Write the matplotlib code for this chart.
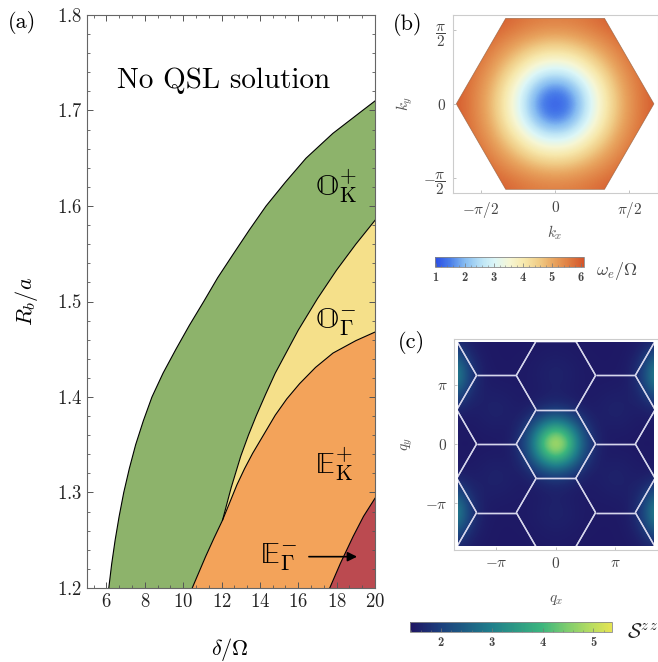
import numpy as np
import matplotlib
matplotlib.use("Agg")
from matplotlib import pyplot as plt
from matplotlib.colors import LinearSegmentedColormap
from matplotlib.patches import Polygon, Rectangle
from matplotlib.collections import LineCollection
from matplotlib.ticker import MultipleLocator

plt.rcParams['font.family'] = 'serif'
plt.rcParams['font.serif'] = ['cmr10']
plt.rcParams['mathtext.fontset'] = 'cm'
plt.rcParams['axes.formatter.use_mathtext'] = True

# ---- panel (a): phase boundaries ----
c1_d = [6.12, 6.27, 6.45, 6.66, 6.90, 7.19, 7.52, 7.92, 8.37, 8.95, 9.62, 10.32, 11.07,
        11.80, 12.62, 13.45, 14.32, 15.33, 16.40, 17.80, 19.35, 20.0]
c1_r = [1.200, 1.225, 1.250, 1.275, 1.300, 1.325, 1.350, 1.375, 1.400, 1.425, 1.450, 1.475, 1.500,
        1.525, 1.550, 1.575, 1.600, 1.625, 1.650, 1.676, 1.700, 1.710]
c2lo_d = [10.47, 11.17, 11.6, 12.05]
c2lo_r = [1.200, 1.233, 1.252, 1.271]
c2up_d = [12.05, 12.5, 13.0, 13.4, 13.8, 14.3, 14.8, 16.0, 17.0, 18.0, 19.0, 20.0]
c2up_r = [1.271, 1.305, 1.338, 1.360, 1.380, 1.403, 1.425, 1.470, 1.503, 1.533, 1.560, 1.585]
c3_d = [12.05, 12.8, 13.2, 13.62, 14.8, 15.4, 16.07, 16.9, 17.81, 19.0, 20.0]
c3_r = [1.271, 1.308, 1.325, 1.341, 1.381, 1.398, 1.414, 1.431, 1.446, 1.459, 1.468]
c4_d = [17.64, 18.2, 18.86, 19.4, 20.0]
c4_r = [1.200, 1.226, 1.254, 1.275, 1.294]

green = '#8db36b'
yellow = '#f5e08a'
orange = '#f3a35a'
red = '#bb4a50'

# ---- panel (b): omega_e / Omega, one quadrant (y rows 0..1.75, x cols 0..2.1, step 0.35) ----
omega_step = 0.35
omega_q = np.array([
    [1.00, 1.45, 2.75, 3.95, 4.90, 5.55, 6.00],
    [1.45, 1.93, 3.00, 4.10, 5.00, 5.58, 6.02],
    [2.75, 3.00, 3.77, 4.55, 5.23, 5.70, 6.05],
    [3.95, 4.10, 4.55, 5.05, 5.50, 5.90, 6.10],
    [4.90, 5.00, 5.23, 5.50, 5.80, 6.05, 6.10],
    [5.55, 5.58, 5.70, 5.90, 6.05, 6.10, 6.10],
])

# ---- panel (c): S^zz, one quadrant (y rows 0..5.4 step .675, x cols 0..5.16 step .645) ----
s_stepx, s_stepy = 0.645, 0.675
szz_q = np.array([
    [5.30, 4.37, 2.72, 1.77, 1.50, 1.46, 1.45, 1.45, 1.45],
    [4.29, 3.60, 2.39, 1.68, 1.48, 1.51, 1.49, 1.45, 1.46],
    [2.59, 2.31, 1.83, 1.54, 1.55, 1.58, 1.53, 1.49, 1.50],
    [1.72, 1.65, 1.54, 1.50, 1.56, 1.59, 1.55, 1.57, 1.75],
    [1.56, 1.52, 1.48, 1.48, 1.51, 1.53, 1.54, 1.74, 2.39],
    [1.59, 1.55, 1.49, 1.47, 1.47, 1.48, 1.53, 1.91, 3.05],
    [1.58, 1.55, 1.49, 1.46, 1.45, 1.46, 1.52, 1.88, 2.94],
    [1.51, 1.49, 1.46, 1.45, 1.45, 1.45, 1.49, 1.67, 2.20],
    [1.47, 1.46, 1.45, 1.45, 1.45, 1.45, 1.46, 1.51, 1.66],
])


def mirror(q):
    full = np.vstack([q[::-1], q[1:]])
    return np.hstack([full[:, ::-1], full[:, 1:]])


cmap_b = LinearSegmentedColormap.from_list('temp', [
    (0.0, '#2a4de6'), (0.1, '#4a7ee9'), (0.2, '#86bcf1'), (0.32, '#bfe6f6'),
    (0.4, '#dcf6f7'), (0.5, '#f6f6d4'), (0.6, '#f7e8ac'), (0.7, '#f0cc86'),
    (0.8, '#e8a35e'), (0.9, '#df7d42'), (1.0, '#d4552b')])
cmap_c = LinearSegmentedColormap.from_list('bgy', [
    (0.0, '#1f1563'), (0.15, '#1c3f7d'), (0.4, '#1f7e8b'), (0.65, '#3bb57e'),
    (0.78, '#7fcd6e'), (0.9, '#b9dd60'), (1.0, '#e6e452')])

W, H = 658, 662
fig = plt.figure(figsize=(W / 100, H / 100), dpi=100)


def box(l, t, r, b):
    return [l / W, 1 - b / H, (r - l) / W, (b - t) / H]


# ================= (a) =================
ax = fig.add_axes(box(87.3, 15, 375, 588))
ax.fill(c1_d + c2up_d[::-1] + c2lo_d[-2::-1], c1_r + c2up_r[::-1] + c2lo_r[-2::-1], color=green, lw=0)
ax.fill(c2up_d + c3_d[::-1], c2up_r + c3_r[::-1], color=yellow, lw=0)
ax.fill(c2lo_d + c3_d[1:] + c4_d[::-1], c2lo_r + c3_r[1:] + c4_r[::-1], color=orange, lw=0)
ax.fill(c4_d + [20.0], c4_r + [1.2], color=red, lw=0)
for d, r in [(c1_d, c1_r), (c2lo_d + c2up_d[1:], c2lo_r + c2up_r[1:]), (c3_d, c3_r), (c4_d, c4_r)]:
    ax.plot(d, r, color='k', lw=0.8)
ax.set_xlim(5, 20)
ax.set_ylim(1.2, 1.8)
ax.xaxis.set_major_locator(MultipleLocator(2))
ax.xaxis.set_minor_locator(MultipleLocator(2 / 3))
ax.yaxis.set_major_locator(MultipleLocator(0.1))
ax.yaxis.set_minor_locator(MultipleLocator(0.02))
ax.set_xticks([6, 8, 10, 12, 14, 16, 18, 20])
ax.tick_params(which='both', direction='in', top=True, right=True, color='#555555', labelsize=13.5, labelcolor='#222222')
ax.tick_params(which='major', length=4, width=0.7)
ax.tick_params(which='minor', length=2.5, width=0.6)
for s in ax.spines.values():
    s.set_color('#666666')
    s.set_linewidth(0.8)
ax.text(12.1, 1.7232, 'No QSL solution', fontsize=21, ha='center', va='baseline')
phase_kw = dict(fontsize=22, ha='left', va='baseline')
ax.text(16.85, 1.6115, '$\\mathrm{\U0001D546}_{\\mathrm{K}}^{+}$', **phase_kw)
ax.text(16.85, 1.472, '$\\mathrm{\U0001D546}_{\\Gamma}^{-}$', **phase_kw)
ax.text(16.85, 1.320, '$\\mathrm{\U0001D53C}_{\\mathrm{K}}^{+}$', **phase_kw)
ax.text(14.0, 1.2259, '$\\mathrm{\U0001D53C}_{\\Gamma}^{-}$', **phase_kw)
ax.annotate('', xy=(19.21, 1.2328), xytext=(16.41, 1.2328),
            arrowprops=dict(arrowstyle='-|>', color='k', lw=1.2, mutation_scale=14))
ax.text(-0.21, 0.5, r'$R_b/a$', transform=ax.transAxes, fontsize=16, rotation=90, ha='center', va='center')
ax.text(0.496, -0.108, r'$\delta/\Omega$', transform=ax.transAxes, fontsize=16, ha='center', va='center')
fig.text(22 / W, 1 - 23 / H, '(a)', fontsize=16, ha='center', va='center')

# ================= (b) =================
axb = fig.add_axes(box(452.7, 15, 657.5, 192.7))
omega = mirror(omega_q)
nb_y, nb_x = omega_q.shape
ex = (nb_x - 0.5) * omega_step
ey = (nb_y - 0.5) * omega_step
imb = axb.imshow(omega, origin='lower', extent=(-ex, ex, -ey, ey), cmap=cmap_b,
                 vmin=0.98, vmax=6.1, interpolation='bicubic')
hex_r = 2 * np.pi / 3
ang = np.arange(6) * np.pi / 3
hex_xy = np.column_stack([hex_r * np.cos(ang), hex_r * np.sin(ang)])
hexpatch = Polygon(hex_xy, closed=True, facecolor='none', edgecolor='#8a5a3a', lw=0.5, alpha=0.7)
axb.add_patch(hexpatch)
imb.set_clip_path(hexpatch)
axb.set_xlim(-2.17, 2.17)
axb.set_ylim(-1.885, 1.885)
axb.set_aspect('auto')
axb.set_xticks([-np.pi / 2, 0, np.pi / 2], [r'$-\pi/2$', r'$0$', r'$\pi/2$'])
axb.set_yticks([-np.pi / 2, 0, np.pi / 2], [r'$-\dfrac{\pi}{2}$', r'$0$', r'$\dfrac{\pi}{2}$'])
axb.tick_params(direction='in', length=2.5, width=0.5, color='#aaaaaa', labelsize=11, labelcolor='#444444', pad=5)
for s in axb.spines.values():
    s.set_color('#cccccc')
    s.set_linewidth(0.8)
axb.text(-0.233, 0.5, r'$k_y$', transform=axb.transAxes, fontsize=11, rotation=90, ha='center', va='center', color='#555555')
axb.text(0.5, -0.227, r'$k_x$', transform=axb.transAxes, fontsize=11, ha='center', va='center', color='#555555')
fig.text(408 / W, 1 - 25 / H, '(b)', fontsize=16, ha='center', va='center')

caxb = fig.add_axes(box(435, 256.7, 584, 266.7))
cbb = fig.colorbar(imb, cax=caxb, orientation='horizontal')
cbb.set_ticks([1, 2, 3, 4, 5, 6])
caxb.xaxis.set_minor_locator(MultipleLocator(0.2))
caxb.tick_params(which='both', direction='in', color='#777777', labelsize=9, labelcolor='#444444', pad=3)
caxb.tick_params(which='major', length=3, width=0.5)
caxb.tick_params(which='minor', length=1.5, width=0.4)
for lab in caxb.get_xticklabels():
    lab.set_family('cmb10')
cbb.outline.set_edgecolor('#888888')
cbb.outline.set_linewidth(0.6)
fig.text(596 / W, 1 - 271 / H, r'$\omega_e/\Omega$', fontsize=13, ha='left', va='center', color='#444444')

# ================= (c) =================
axc = fig.add_axes(box(454.2, 338.5, 657.7, 549.5))
szz = mirror(szz_q)
nc_y, nc_x = szz_q.shape
cx = (nc_x - 0.5) * s_stepx
cy = (nc_y - 0.5) * s_stepy
imc = axc.imshow(szz, origin='lower', extent=(-cx, cx, -cy, cy), cmap=cmap_c,
                 vmin=1.39, vmax=5.37, interpolation='bicubic')
ix, iy = (nc_x - 1) * s_stepx, (nc_y - 1) * s_stepy
clip = Rectangle((-ix, -iy), 2 * ix, 2 * iy, transform=axc.transData, facecolor='none', edgecolor='none')
axc.add_patch(clip)
imc.set_clip_path(clip)
# Brillouin-zone tiling
b1 = np.array([np.pi, np.pi / np.sqrt(3)])
b3 = np.array([0.0, 2 * np.pi / np.sqrt(3)])
segs = []
for m in range(-3, 4):
    for n in range(-5, 6):
        c = m * b1 + n * b3
        v = hex_xy + c
        for i in range(6):
            segs.append([v[i], v[(i + 1) % 6]])
lc = LineCollection(segs, colors='#d6d6ec', linewidths=1.0)
axc.add_collection(lc)
lc.set_clip_path(clip)
axc.set_xlim(-1.71 * np.pi, 1.71 * np.pi)
axc.set_ylim(-1.776 * np.pi, 1.776 * np.pi)
axc.set_aspect('auto')
axc.set_xticks([-np.pi, 0, np.pi], [r'$-\pi$', r'$0$', r'$\pi$'])
axc.set_yticks([-np.pi, 0, np.pi], [r'$-\pi$', r'$0$', r'$\pi$'])
axc.tick_params(direction='in', length=2.5, width=0.5, color='#aaaaaa', labelsize=11, labelcolor='#444444', pad=5)
for s in axc.spines.values():
    s.set_color('#cccccc')
    s.set_linewidth(0.8)
axc.text(-0.233, 0.5, r'$q_y$', transform=axc.transAxes, fontsize=11, rotation=90, ha='center', va='center', color='#555555')
axc.text(0.5, -0.239, r'$q_x$', transform=axc.transAxes, fontsize=11, ha='center', va='center', color='#555555')
fig.text(411 / W, 1 - 343 / H, '(c)', fontsize=16, ha='center', va='center')

caxc = fig.add_axes(box(410, 621.7, 612.3, 631.7))
cbc = fig.colorbar(imc, cax=caxc, orientation='horizontal')
cbc.set_ticks([2, 3, 4, 5])
caxc.xaxis.set_minor_locator(MultipleLocator(0.2))
caxc.tick_params(which='both', direction='in', color='#777777', labelsize=9, labelcolor='#444444', pad=3)
caxc.tick_params(which='major', length=3, width=0.5)
caxc.tick_params(which='minor', length=1.5, width=0.4)
for lab in caxc.get_xticklabels():
    lab.set_family('cmb10')
cbc.outline.set_edgecolor('#888888')
cbc.outline.set_linewidth(0.6)
fig.text(627 / W, 1 - 633 / H, r'$\mathcal{S}^{z\,z}$', fontsize=15, ha='left', va='center', color='#222222')

fig.savefig('out.png', dpi=100)
